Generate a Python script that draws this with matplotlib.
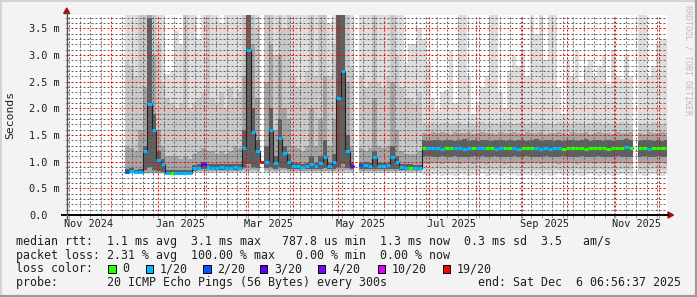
import numpy as np
import matplotlib
matplotlib.use("Agg")
import matplotlib.pyplot as plt
import matplotlib.dates as mdates
from matplotlib.ticker import MultipleLocator
from matplotlib.patches import Rectangle, Polygon
from matplotlib.lines import Line2D
from datetime import datetime

plt.rcParams['font.family'] = 'DejaVu Sans Mono'
W, H = 697, 297
nan = np.nan

# ---- data: 3-day consolidated steps, first step starts 2024-12-10 ----
t_first = np.datetime64('2024-12-10')
step_days = 3

# median rtt (ms)
med = [0.81, 0.83, 0.80, 0.80, 1.20, 2.09, 1.60, 1.04, 0.95, 0.79,
       0.79, 0.79, 0.79, 0.79, 0.79, 0.88, 0.89, 0.96, 0.90, 0.89,
       0.89, 0.90, 0.89, 0.89, 0.90, 0.89, 1.25, 3.10, 1.55, 1.20,
       1.00, 1.00, 1.60, 0.97, 1.45, 1.17, 1.00, 0.92, 0.91, 0.90,
       0.92, 0.96, 0.92, 0.98, 1.08, 0.92, 1.00, 2.20, 2.70, 1.20,
       0.92, nan, 0.93, 0.94, 0.92, 1.08, 0.92, 0.92, 0.93, 1.09,
       1.00, 0.90, 0.89, 0.89, 0.88, 0.88, 1.26, 1.25, 1.26, 1.25,
       1.24, 1.26, 1.25, 1.26, 1.25, 1.24, 1.25, 1.26, 1.25, 1.25,
       1.26, 1.25, 1.24, 1.25, 1.26, 1.25, 1.25, 1.24, 1.26, 1.25,
       1.25, 1.26, 1.24, 1.25, 1.24, 1.26, 1.25, 1.24, 1.25, 1.25,
       1.26, 1.25, 1.24, 1.25, 1.26, 1.25, 1.25, 1.24, 1.25, 1.26,
       1.25, 1.27, 1.25, nan, 1.25, 1.26, 1.24, 1.25, 1.26, 1.25,
       1.26]

# lost pings out of 20
loss = [2, 1, 1, 1, 1, 1, 1, 1, 1, 1,
        0, 1, 1, 1, 1, 1, 1, 3, 1, 1,
        1, 1, 1, 1, 1, 1, 1, 1, 1, 1,
        19, 1, 1, 1, 1, 1, 1, 1, 1, 1,
        1, 1, 1, 1, 1, 1, 1, 1, 1, 1,
        3, nan, 2, 1, 1, 1, 1, 1, 1, 1,
        1, 1, 1, 0, 1, 1, 0, 1, 1, 1,
        1, 0, 0, 1, 1, 1, 1, 0, 1, 1,
        0, 0, 1, 1, 0, 0, 1, 1, 0, 0,
        0, 1, 1, 1, 1, 1, 1, 0, 0, 0,
        0, 0, 0, 0, 0, 0, 0, 0, 0, 0,
        0, 1, 0, nan, 0, 0, 1, 0, 0, 0,
        0]

# smoke: outer band (min .. max ping)
a_lo = [.76, .76, .76, .76, .76, .76, .76, .76, .76, .76,
        .76, .76, .76, .76, .76, .78, .78, .78, .78, .78,
        .78, .78, .78, .78, .78, .78, .78, .78, .78, .78,
        nan, .78, .78, .78, .78, .78, .78, .78, .78, .78,
        .78, .78, .78, .78, .78, .78, .78, .78, .78, .78,
        .78, nan, .78, .78, .78, .78, .78, .78, .78, .78,
        .78, .78, .78, .78, .78, .78, .75, .74, .75, .76,
        .74, .75, .75, .74, .76, .75, .74, .75, .75, .76,
        .74, .75, .75, .74, .75, .76, .75, .74, .75, .75,
        .76, .74, .75, .75, .74, .75, .76, .75, .74, .75,
        .75, .74, .75, .76, .75, .74, .75, .75, .74, .75,
        .76, .75, .74, nan, .75, .74, .75, .76, .75, .74,
        .75]
a_hi = [4, 4, 4, 4, 4, 4, 4, 4, 4, 2.65,
        2.7, 3.45, 3.2, 4, 4, 4, 3.3, 4, 4, 4,
        4, 3.6, 4, 4, 4, 4, 4, 4, 4, 4,
        nan, 4, 4, 4, 4, 4, 4, 4, 4, 4,
        4, 4, 4, 4, 4, 3.6, 4, 4, 4, 4,
        4, nan, 4, 4, 4, 4, 4, 4, 4, 4,
        4, 4, 2.85, 3.2, 3.2, 3.5, 3.3, 2.85, 2.2, 1.95,
        2.3, 2.35, 3.1, 2.1, 4, 4, 2.6, 1.9, 2.1, 2.4,
        2.6, 4, 4, 2.3, 2.0, 2.7, 3.0, 2.8, 3.1, 2.6,
        4, 3.4, 4, 2.9, 4, 4, 2.4, 1.9, 2.9, 2.6,
        3.1, 2.5, 2.8, 2.9, 2.6, 2.8, 3.0, 2.45, 3.1, 2.6,
        2.55, 3.0, 2.6, nan, 4, 4, 2.6, 2.8, 3.2, 3.3,
        3.3]

# second band
b_lo = [.78, .78, .78, .78, .78, .78, .78, .78, .78, .77,
        .77, .77, .77, .77, .77, .80, .80, .80, .80, .80,
        .80, .80, .80, .80, .80, .80, .80, .80, .80, .80,
        nan, .80, .80, .80, .80, .80, .80, .80, .80, .80,
        .80, .80, .80, .80, .80, .80, .80, .80, .80, .80,
        .80, nan, .80, .80, .80, .80, .80, .80, .80, .80,
        .80, .80, .80, .80, .80, .80, .85, .84, .85, .86,
        .85, .84, .85, .85, .86, .84, .85, .85, .84, .86,
        .85, .85, .84, .85, .86, .85, .84, .85, .85, .86,
        .84, .85, .85, .84, .85, .86, .85, .84, .85, .85,
        .86, .84, .85, .85, .84, .86, .85, .85, .84, .85,
        .86, .85, .84, nan, .85, .85, .84, .86, .85, .85,
        .84]
b_hi = [2.9, 2.8, 2.6, 4, 4, 4, 4, 3.2, 2.5, 2.2,
        2.1, 2.0, 2.1, 4, 2.0, 2.1, 2.2, 2.3, 4, 2.2,
        2.1, 2.3, 2.0, 2.4, 2.2, 2.3, 4, 4, 4, 3.5,
        nan, 4, 4, 3.0, 4, 3.5, 4, 2.6, 2.4, 2.5,
        2.7, 4, 2.6, 4, 4, 2.6, 3.2, 4, 4, 4,
        2.8, nan, 2.6, 2.4, 2.5, 4, 2.5, 2.4, 2.6, 4,
        3.0, 2.4, 2.2, 2.2, 2.1, 2.3, 1.72, 1.70, 1.74, 1.71,
        1.73, 1.75, 1.70, 1.72, 1.74, 1.71, 1.73, 1.70, 1.72, 1.75,
        1.71, 1.73, 1.72, 1.70, 1.74, 1.72, 1.71, 1.73, 1.75, 1.70,
        1.72, 1.74, 1.71, 1.73, 1.72, 1.70, 1.74, 1.72, 1.73, 1.71,
        1.75, 1.72, 1.70, 1.73, 1.72, 1.74, 1.71, 1.73, 1.70, 1.72,
        1.74, 1.72, 1.71, nan, 1.73, 1.72, 1.70, 1.74, 1.72, 1.71,
        1.73]

# third band
c_lo = [.79, .79, .79, .79, .79, .79, .79, .79, .79, .78,
        .78, .78, .78, .78, .78, .82, .82, .82, .82, .82,
        .82, .82, .82, .82, .82, .82, .84, .85, .84, .84,
        nan, .84, .84, .82, .84, .84, .83, .82, .82, .82,
        .82, .83, .82, .83, .83, .82, .83, .85, .85, .84,
        .82, nan, .82, .82, .82, .83, .82, .82, .82, .83,
        .83, .82, .82, .82, .82, .82, .97, .96, .98, .97,
        .96, .98, .97, .97, .96, .98, .97, .96, .97, .98,
        .96, .97, .97, .98, .96, .97, .98, .97, .96, .97,
        .98, .97, .96, .97, .97, .98, .96, .97, .98, .97,
        .96, .97, .97, .98, .96, .97, .98, .97, .96, .97,
        .97, .98, .96, nan, .97, .98, .96, .97, .97, .98,
        .96]
c_hi = [1.3, 1.25, 1.2, 1.6, 2.4, 4, 3.0, 1.6, 1.3, 1.1,
        1.1, 1.1, 1.05, 1.1, 1.05, 1.15, 1.2, 1.25, 1.2, 1.2,
        1.15, 1.2, 1.15, 1.2, 1.3, 1.25, 2.6, 4, 3.2, 2.2,
        nan, 2.5, 3.2, 1.6, 3.0, 2.0, 1.8, 1.3, 1.25, 1.2,
        1.3, 2.0, 1.3, 1.8, 2.6, 1.3, 1.8, 4, 4, 2.5,
        1.3, nan, 1.25, 1.2, 1.25, 2.2, 1.3, 1.25, 1.3, 2.5,
        1.6, 1.2, 1.15, 1.15, 1.15, 1.2, 1.54, 1.52, 1.55, 1.53,
        1.56, 1.54, 1.52, 1.55, 1.53, 1.54, 1.56, 1.52, 1.54, 1.55,
        1.53, 1.54, 1.52, 1.56, 1.54, 1.53, 1.55, 1.54, 1.52, 1.56,
        1.53, 1.54, 1.55, 1.52, 1.54, 1.53, 1.56, 1.54, 1.52, 1.55,
        1.53, 1.54, 1.56, 1.52, 1.54, 1.55, 1.53, 1.54, 1.52, 1.56,
        1.54, 1.53, 1.55, nan, 1.54, 1.52, 1.55, 1.53, 1.54, 1.56,
        1.53]

# inner (dark) band
d_lo = [.80, .80, .79, .79, .85, .90, .85, .82, .80, .78,
        .78, .78, .78, .78, .78, .83, .85, .86, .86, .85,
        .85, .85, .85, .85, .85, .85, .90, .95, .90, .88,
        nan, .88, .90, .87, .90, .88, .87, .86, .86, .86,
        .86, .87, .86, .87, .88, .86, .87, .90, .95, .88,
        .86, nan, .86, .86, .86, .87, .86, .86, .86, .87,
        .86, .85, .85, .85, .85, .85, 1.09, 1.10, 1.08, 1.09,
        1.10, 1.09, 1.08, 1.10, 1.09, 1.09, 1.08, 1.10, 1.09, 1.10,
        1.08, 1.09, 1.10, 1.09, 1.08, 1.09, 1.10, 1.09, 1.08, 1.10,
        1.09, 1.09, 1.08, 1.10, 1.09, 1.08, 1.09, 1.10, 1.09, 1.08,
        1.09, 1.10, 1.09, 1.09, 1.08, 1.10, 1.09, 1.08, 1.09, 1.10,
        1.09, 1.09, 1.08, nan, 1.09, 1.10, 1.08, 1.09, 1.10, 1.09,
        1.09]
d_hi = [.86, .88, .85, .86, 1.30, 3.70, 1.90, 1.20, 1.05, .84,
        .84, .84, .84, .84, .84, .93, .95, 1.00, .95, .95,
        .95, .95, .95, .95, .96, .95, 1.60, 3.75, 2.00, 1.40,
        nan, 1.30, 2.00, 1.10, 1.80, 1.30, 1.15, .98, .97, .96,
        .98, 1.10, .98, 1.10, 1.40, .98, 1.15, 3.75, 3.75, 1.50,
        .98, nan, .98, .99, .98, 1.20, .98, .98, .98, 1.30,
        1.10, .96, .95, .95, .94, .94, 1.40, 1.39, 1.41, 1.40,
        1.38, 1.40, 1.41, 1.39, 1.40, 1.42, 1.39, 1.40, 1.38, 1.41,
        1.40, 1.39, 1.40, 1.41, 1.39, 1.40, 1.38, 1.40, 1.41, 1.39,
        1.40, 1.42, 1.39, 1.40, 1.41, 1.38, 1.40, 1.39, 1.41, 1.40,
        1.39, 1.40, 1.42, 1.38, 1.40, 1.41, 1.39, 1.40, 1.38, 1.41,
        1.40, 1.42, 1.40, nan, 1.39, 1.40, 1.41, 1.39, 1.40, 1.38,
        1.40]

loss_steps = [0, 1, 2, 3, 4, 10, 19]
loss_labels = ['0', '1/20', '2/20', '3/20', '4/20', '10/20', '19/20']
loss_colors = ['#26ff00', '#00b8ff', '#0059ff', '#5e00ff', '#7e00ff', '#dd00ff', '#ff0000']

yticks = [0.0, 0.5, 1.0, 1.5, 2.0, 2.5, 3.0, 3.5]
ylabels = ['0.0', '0.5 m', '1.0 m', '1.5 m', '2.0 m', '2.5 m', '3.0 m', '3.5 m']
xlabel_dates = ['2024-11-16', '2025-01-16', '2025-03-16', '2025-05-16',
                '2025-07-16', '2025-09-16', '2025-11-16']
xlabels = ['Nov 2024', 'Jan 2025', 'Mar 2025', 'May 2025', 'Jul 2025', 'Sep 2025', 'Nov 2025']

legend_lines = [
    "median rtt:  1.1 ms avg  3.1 ms max   787.8 us min  1.3 ms now  0.3 ms sd  3.5   am/s",
    "packet loss: 2.31 % avg  100.00 % max   0.00 % min  0.00 % now",
]
probe_text = "probe:       20 ICMP Echo Pings (56 Bytes) every 300s"
end_text = "end: Sat Dec  6 06:56:37 2025"

# ---- figure ----
n = len(med)
arrs = [np.array(a, dtype=float) for a in (med, loss, a_lo, a_hi, b_lo, b_hi, c_lo, c_hi, d_lo, d_hi)]
for a in arrs:
    assert len(a) == n, len(a)
med, loss, a_lo, a_hi, b_lo, b_hi, c_lo, c_hi, d_lo, d_hi = arrs

x = mdates.date2num(t_first + np.arange(n) * np.timedelta64(step_days, 'D'))

fig = plt.figure(figsize=(W / 100, H / 100), dpi=100, facecolor='#f3f3f3')
ax = fig.add_axes([66.7 / W, (H - 215) / H, 600 / W, 200 / H])
ax.set_facecolor('white')

# smoke
for lo, hi, col in [(a_lo, a_hi, '#dddddd'), (b_lo, b_hi, '#c8c8c8'),
                    (c_lo, c_hi, '#a4a4a4'), (d_lo, d_hi, '#5e5e5e')]:
    m = ~np.isnan(lo)
    ax.bar(x[m], hi[m] - lo[m], bottom=lo[m], width=step_days, align='edge',
           color=col, linewidth=0, antialiased=False, zorder=1)

# median line, coloured by loss
xs = np.append(x, x[-1] + step_days)
ax.step(xs, np.append(med, med[-1]), where='post', color='#202020', lw=0.8, zorder=3)
m = ~np.isnan(med)
cols = [loss_colors[max(k for k, s in enumerate(loss_steps) if v >= s)] for v in loss[m]]
ax.hlines(med[m], x[m], x[m] + step_days, colors=cols, lw=2.2, zorder=4, capstyle='butt')

# axes & grid
ax.set_xlim(mdates.date2num(datetime(2024, 11, 1, 6, 56, 37)),
            mdates.date2num(datetime(2025, 12, 6, 6, 56, 37)))
ax.set_ylim(0, 3.75)
ax.xaxis.set_major_locator(mdates.MonthLocator())
ax.xaxis.set_minor_locator(mdates.WeekdayLocator(byweekday=mdates.SU))
ax.set_yticks(yticks, labels=ylabels)
ax.yaxis.set_minor_locator(MultipleLocator(0.1))
ax.set_xticklabels([])
ax.set_axisbelow(False)
ax.grid(which='major', color=(1, 0, 0, 0.24), lw=0.72, ls=(0, (2, 2)))
ax.grid(which='minor', color=(0.4, 0.4, 0.4, 0.2), lw=0.72, ls=(0, (2, 2)))
for s in ax.spines.values():
    s.set_visible(False)
ax.tick_params(axis='both', which='both', direction='out', length=1.8, width=0.7, color='#a0a0a0')
ax.tick_params(axis='y', which='major', labelsize=7.35, pad=25.1, labelcolor='#202020')
for lab in ax.get_yticklabels():
    lab.set_ha('left')
for d, lab in zip(xlabel_dates, xlabels):
    ax.text(mdates.date2num(np.datetime64(d)), -0.045, lab, transform=ax.get_xaxis_transform(),
            ha='center', va='center', fontsize=7.35, color='#202020')


def fx(px):
    return px / W


def fy(py):
    return 1 - py / H


# axis lines and arrows
fig.add_artist(Line2D([fx(62), fx(668)], [fy(215), fy(215)], color='black', lw=1.4))
fig.add_artist(Line2D([fx(66.7), fx(66.7)], [fy(219), fy(12)], color='#505050', lw=1.0))
fig.add_artist(Polygon([[fx(63.7), fy(13.5)], [fx(69.7), fy(13.5)], [fx(66.7), fy(8)]],
                       closed=True, color='#a01010', transform=fig.transFigure))
fig.add_artist(Polygon([[fx(668), fy(212)], [fx(668), fy(218)], [fx(673.5), fy(215)]],
                       closed=True, color='#a01010', transform=fig.transFigure))

# frame shading
fig.add_artist(Line2D([0, 1], [fy(0.5), fy(0.5)], color='#d4d4d4', lw=1.4))
fig.add_artist(Line2D([fx(0.5), fx(0.5)], [0, 1], color='#d4d4d4', lw=1.4))
fig.add_artist(Line2D([0, 1], [fy(296), fy(296)], color='#9c9c9c', lw=1.6))
fig.add_artist(Line2D([fx(696), fx(696)], [0, 1], color='#9c9c9c', lw=1.6))

# labels
fig.text(fx(10), fy(115), 'Seconds', rotation=90, ha='center', va='center', fontsize=8.2, color='#202020')
fig.text(fx(688), fy(5), 'RRDTOOL / TOBI OETIKER', rotation=270, ha='center', va='top',
         fontsize=6.0, color='#bdbdbd')

# legend
ys = [241.7, 255.0, 269.0, 282.7]
for yy, line in zip(ys, legend_lines):
    fig.text(fx(15.5), fy(yy), line, ha='left', va='center', fontsize=8.4, color='#202020')
fig.text(fx(15.5), fy(ys[2]), 'loss color:', ha='left', va='center', fontsize=8.4, color='#202020')
sq_x = [108.3, 145.7, 203.3, 260.0, 318.0, 377.7, 442.7]
for sx, col, lab in zip(sq_x, loss_colors, loss_labels):
    fig.add_artist(Rectangle((fx(sx), fy(ys[2] + 3.6)), 7.3 / W, 7.3 / H, transform=fig.transFigure,
                             facecolor=col, edgecolor='black', lw=0.7))
    fig.text(fx(sx + 14.3), fy(ys[2]), lab, ha='left', va='center', fontsize=8.4, color='#202020')
fig.text(fx(15.5), fy(ys[3]), probe_text, ha='left', va='center', fontsize=8.4, color='#202020')
fig.text(fx(681), fy(ys[3]), end_text, ha='right', va='center', fontsize=8.4, color='#202020')

fig.savefig('out.png', dpi=100, facecolor=fig.get_facecolor())
